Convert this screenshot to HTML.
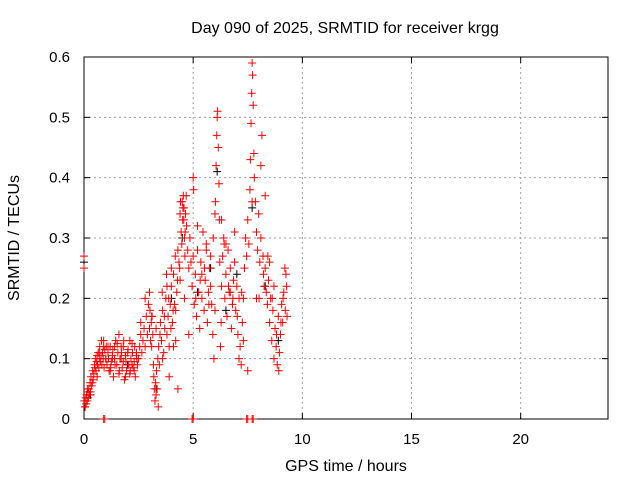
<!DOCTYPE html>
<html><head><meta charset="utf-8"><style>
body{margin:0;background:#fff}
svg text{font-family:"Liberation Sans",sans-serif;font-size:15px;fill:#000}
svg text.big{font-size:16px}
</style></head><body>
<svg id="chart" width="640" height="480" viewBox="0 0 640 480" xmlns="http://www.w3.org/2000/svg">
<rect width="640" height="480" fill="#fff"/>
<g id="grid"></g>
<g id="axes"></g>
<g id="marks"></g>
<text class="big" x="345" y="33" text-anchor="middle">Day 090 of 2025, SRMTID for receiver krgg</text>
<text class="big" x="346" y="471" text-anchor="middle">GPS time / hours</text>
<text class="big" transform="translate(19,238) rotate(-90)" text-anchor="middle">SRMTID / TECUs</text>
</svg>
<script>
const xTicks=[0,5,10,15,20];
const yTicks=[0,0.1,0.2,0.3,0.4,0.5,0.6];
const yTickLabels=["0","0.1","0.2","0.3","0.4","0.5","0.6"];
const times=[
0,0,0.02,0.05,0.08,0.1,0.12,0.15,0.18,0.2,
0.22,0.25,0.28,0.3,0.32,0.35,0.38,0.4,0.42,0.45,
0.48,0.5,0.52,0.55,0.58,0.6,0.62,0.65,0.68,0.7,
0.72,0.75,0.78,0.8,0.82,0.85,0.88,0.9,0.92,0.95,
1.0,1.05,1.1,1.15,1.2,1.25,1.3,1.35,1.4,1.45,
1.5,1.55,1.6,1.65,1.7,1.75,1.8,1.85,1.9,1.95,
2.0,2.05,2.1,2.15,2.2,2.25,2.3,2.35,2.4,2.45,
2.5,2.55,2.6,2.65,2.7,2.75,2.8,2.85,2.9,2.95,
3.0,3.02,3.05,3.08,3.1,3.12,3.15,3.18,3.2,3.22,
3.25,3.28,3.3,3.32,3.35,3.38,3.4,3.42,3.45,3.48,
3.5,3.55,3.6,3.65,3.7,3.75,3.8,3.85,3.9,3.95,
4.0,4.05,4.1,4.15,4.2,4.25,4.3,4.35,4.4,4.45,
4.5,4.52,4.55,4.58,4.6,4.62,4.65,4.7,4.75,4.8,
4.85,4.9,4.95,5.0,5.02,5.05,5.1,5.15,5.2,5.25,
5.3,5.35,5.4,5.45,5.5,5.55,5.6,5.65,5.7,5.75,
5.8,5.85,5.9,5.95,6.0,6.02,6.05,6.08,6.1,6.12,
6.15,6.18,6.2,6.22,6.25,6.28,6.3,6.35,6.4,6.45,
6.5,6.55,6.6,6.65,6.7,6.75,6.8,6.85,6.9,6.95,
7.0,7.05,7.1,7.15,7.2,7.25,7.3,7.35,7.4,7.45,
7.5,7.55,7.6,7.62,7.65,7.68,7.7,7.72,7.75,7.78,
7.8,7.85,7.9,7.95,8.0,8.05,8.1,8.15,8.2,8.25,
8.3,8.35,8.4,8.45,8.5,8.55,8.6,8.65,8.7,8.75,
8.8,8.85,8.9,8.95,9.0,9.05,9.1,9.15,9.2,9.25,
0.6,0.7,0.9,1.1,1.3,1.6,1.8,2.1,2.3,2.6,
2.8,3.0,3.1,3.6,3.8,4.0,4.2,4.4,4.6,4.8,
5.0,5.2,5.4,5.6,5.8,6.0,6.3,6.5,6.7,6.9,
7.1,7.3,7.5,7.7,7.9,8.1,8.3,8.5,8.7,9.3,
0.9,0.95,4.95,5.0,7.45,7.5,7.7,7.75,0.05,0.15,
1.2,1.4,1.7,1.9,2.2,2.4,3.3,3.9,4.1,4.3,
1.02,1.12,1.22,1.32,1.42,1.52,1.62,1.72,1.82,1.92,
2.02,2.12,2.22,2.32,2.42,3.58,3.68,3.78,3.88,3.98,
4.08,4.18,4.28,4.38,4.42,4.48,4.53,4.57,4.63,4.68,
5.12,5.32,5.52,5.72,5.92,6.42,6.62,6.82,7.02,7.22,
8.02,8.22,8.42,8.62,8.82,9.02,9.12,9.22,9.28,8.92];
const values=[
0.27,0.25,0.03,0.02,0.035,0.025,0.04,0.03,0.045,0.035,
0.05,0.04,0.06,0.045,0.07,0.055,0.06,0.08,0.065,0.075,
0.09,0.085,0.1,0.08,0.095,0.105,0.09,0.11,0.085,0.1,
0.12,0.095,0.105,0.13,0.09,0.11,0.1,0.12,0.085,0.115,
0.1,0.09,0.11,0.08,0.12,0.095,0.105,0.07,0.1,0.13,
0.09,0.11,0.075,0.1,0.12,0.085,0.095,0.065,0.105,0.08,
0.11,0.09,0.075,0.1,0.125,0.085,0.095,0.07,0.105,0.09,
0.1,0.12,0.14,0.11,0.13,0.15,0.12,0.17,0.14,0.19,
0.15,0.18,0.13,0.16,0.12,0.17,0.14,0.09,0.07,0.05,
0.03,0.06,0.04,0.08,0.05,0.1,0.02,0.12,0.09,0.14,
0.16,0.13,0.18,0.11,0.15,0.2,0.14,0.17,0.12,0.19,
0.22,0.16,0.24,0.19,0.13,0.21,0.05,0.26,0.34,0.31,
0.36,0.33,0.37,0.35,0.3,0.27,0.34,0.32,0.28,0.25,
0.3,0.26,0.22,0.4,0.38,0.19,0.24,0.17,0.28,0.21,
0.15,0.26,0.2,0.31,0.18,0.23,0.29,0.16,0.21,0.25,
0.27,0.19,0.14,0.1,0.34,0.36,0.42,0.47,0.5,0.51,
0.45,0.39,0.33,0.26,0.12,0.16,0.22,0.27,0.3,0.2,
0.24,0.17,0.28,0.21,0.25,0.15,0.19,0.23,0.26,0.18,
0.22,0.14,0.1,0.12,0.09,0.16,0.2,0.25,0.3,0.27,
0.33,0.29,0.38,0.43,0.49,0.54,0.59,0.57,0.52,0.44,
0.4,0.36,0.31,0.28,0.34,0.26,0.42,0.47,0.27,0.22,
0.25,0.21,0.19,0.23,0.16,0.2,0.13,0.18,0.1,0.15,
0.12,0.09,0.17,0.11,0.14,0.19,0.16,0.21,0.25,0.24,
0.07,0.11,0.13,0.12,0.1,0.14,0.12,0.13,0.08,0.16,
0.2,0.21,0.17,0.1,0.22,0.25,0.18,0.23,0.2,0.14,
0.27,0.32,0.24,0.28,0.22,0.18,0.33,0.29,0.21,0.31,
0.2,0.13,0.08,0.36,0.2,0.3,0.37,0.26,0.22,0.17,
0,0,0,0,0,0,0,0,0.02,0.05,
0.08,0.12,0.1,0.07,0.09,0.11,0.15,0.07,0.12,0.28,
0.12,0.1,0.085,0.115,0.09,0.125,0.08,0.11,0.13,0.095,
0.115,0.08,0.11,0.12,0.1,0.21,0.17,0.24,0.2,0.15,
0.18,0.27,0.23,0.25,0.36,0.29,0.35,0.33,0.31,0.37,
0.2,0.23,0.25,0.19,0.3,0.29,0.22,0.2,0.17,0.21,
0.2,0.24,0.27,0.2,0.14,0.16,0.2,0.18,0.22,0.08];
const blackT=[0,0.3,1.0,2.0,3.3,4.0,4.5,5.2,5.8,6.1,6.5,7.0,7.7,8.3,8.9];
const blackV=[0.26,0.04,0.1,0.09,0.05,0.2,0.3,0.21,0.25,0.41,0.18,0.24,0.35,0.22,0.13];
const X0=84,X1=608,Y0=419,Y1=57;
const sx=t=>X0+t/24*(X1-X0);
const sy=v=>Y0-v/0.6*(Y0-Y1);
const NS="http://www.w3.org/2000/svg";
function mk(tag,attrs,parent){const e=document.createElementNS(NS,tag);for(const k in attrs)e.setAttribute(k,attrs[k]);parent.appendChild(e);return e;}
const grid=document.getElementById('grid'),axes=document.getElementById('axes'),marks=document.getElementById('marks');
yTicks.forEach((v,i)=>{const y=sy(v);
 if(v>0&&v<0.6){const l=mk('line',{x1:X0,x2:X1,y1:y,y2:y,stroke:'#a0a0a0','stroke-dasharray':'2,3'},grid);}
 mk('line',{x1:X0,x2:X0+6,y1:y,y2:y,stroke:'#000'},axes);mk('line',{x1:X1,x2:X1-6,y1:y,y2:y,stroke:'#000'},axes);
 const t=mk('text',{x:X0-14,y:y+5,'text-anchor':'end'},axes);t.textContent=yTickLabels[i];
 });
xTicks.forEach(v=>{const x=sx(v);
 if(v>0){const l=mk('line',{x1:x,x2:x,y1:Y0,y2:Y1,stroke:'#a0a0a0','stroke-dasharray':'2,3'},grid);}
 mk('line',{x1:x,x2:x,y1:Y0,y2:Y0-6,stroke:'#000'},axes);mk('line',{x1:x,x2:x,y1:Y1,y2:Y1+6,stroke:'#000'},axes);
 const t=mk('text',{x:x,y:Y0+25,'text-anchor':'middle'},axes);t.textContent=String(v);
 });
const fr=mk('rect',{x:X0,y:Y1,width:X1-X0,height:Y0-Y1,fill:'none',stroke:'#000'},axes);

function plus(t,v,col){const x=sx(t),y=sy(v);
 const p=mk('path',{d:`M${x-4},${y}h8M${x},${y-4}v8`,stroke:col,'stroke-width':1},marks);
 }
blackT.forEach((t,i)=>plus(t,blackV[i],'#000'));
times.forEach((t,i)=>plus(t,values[i],'#f00'));
</script>
</body></html>
